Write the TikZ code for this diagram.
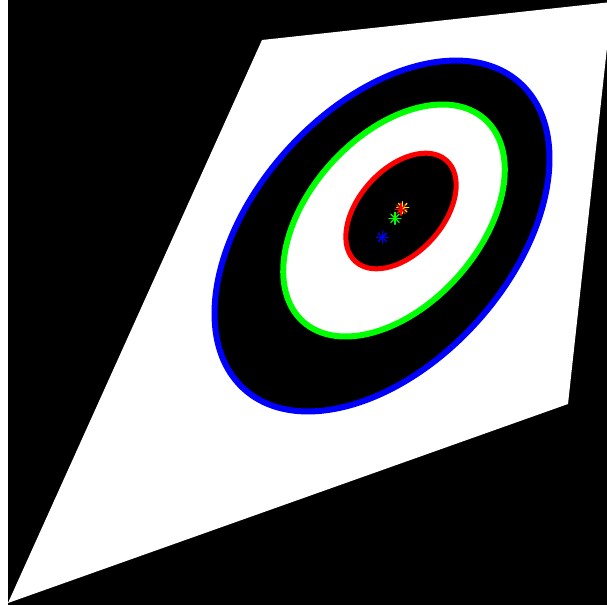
\documentclass[tikz,border=0pt]{standalone}
\usetikzlibrary{positioning}

\begin{document}
\begin{tikzpicture}[
    x=1pt, y=1pt,
    %% ── Fill styles ─────────────────────────────────────────────────────
    backdrop/.style={fill=black, draw=none},
    sheet/.style={fill=white, draw=none},
    %% ── Ring styles ─────────────────────────────────────────────────────
    outerring/.style={draw=blue,  fill=black, line width=6pt},
    middlering/.style={draw=green, fill=white, line width=6pt},
    innerring/.style={draw=red,   fill=black, line width=5pt},
    %% ── Centre markers (asterisk) ───────────────────────────────────────
    centremark/.style={line width=1.3pt, line cap=round},
]

%%─────────────────────────────────────────────────────────────────────────
%% Frame and background
%%─────────────────────────────────────────────────────────────────────────
\useasboundingbox (0,0) rectangle (607,605);
\fill[white] (0,0) rectangle (607,605);
\fill[backdrop] (8,0) rectangle (607,605);

%%─────────────────────────────────────────────────────────────────────────
%% Skewed sheet
%%─────────────────────────────────────────────────────────────────────────
\begin{scope}
    \clip (8,0) rectangle (607,605);
    \coordinate (sheetA) at (262,565);
    \coordinate (sheetB) at (612,603);
    \coordinate (sheetC) at (568,201);
    \coordinate (sheetD) at (8,2);
    \fill[sheet] (sheetA) -- (sheetB) -- (sheetC) -- (sheetD) -- cycle;
\end{scope}

%%─────────────────────────────────────────────────────────────────────────
%% Rings (all same shape, tilted 48 degrees)
%%─────────────────────────────────────────────────────────────────────────
\coordinate (blueC)  at (382,369);
\coordinate (greenC) at (394,384.5);
\coordinate (redC)   at (401,394);

\draw[outerring,  rotate around={48:(blueC)}]  (blueC)  ellipse [x radius=206, y radius=128];
\draw[middlering, rotate around={48:(greenC)}] (greenC) ellipse [x radius=136, y radius=85];
\draw[innerring,  rotate around={48:(redC)}]   (redC)   ellipse [x radius=68,  y radius=42];

%%─────────────────────────────────────────────────────────────────────────
%% Centre markers
%%─────────────────────────────────────────────────────────────────────────
\foreach \px/\py/\col in {382.3/367.7/blue, 395/386.7/green,
                          402.7/397.3/yellow, 401/395.7/red}{
    \foreach \ang in {0,45,90,135}{
        \draw[centremark, \col] ([shift={(\ang:6)}]\px,\py) -- ([shift={(\ang+180:6)}]\px,\py);
    }
}

\end{tikzpicture}
\end{document}
